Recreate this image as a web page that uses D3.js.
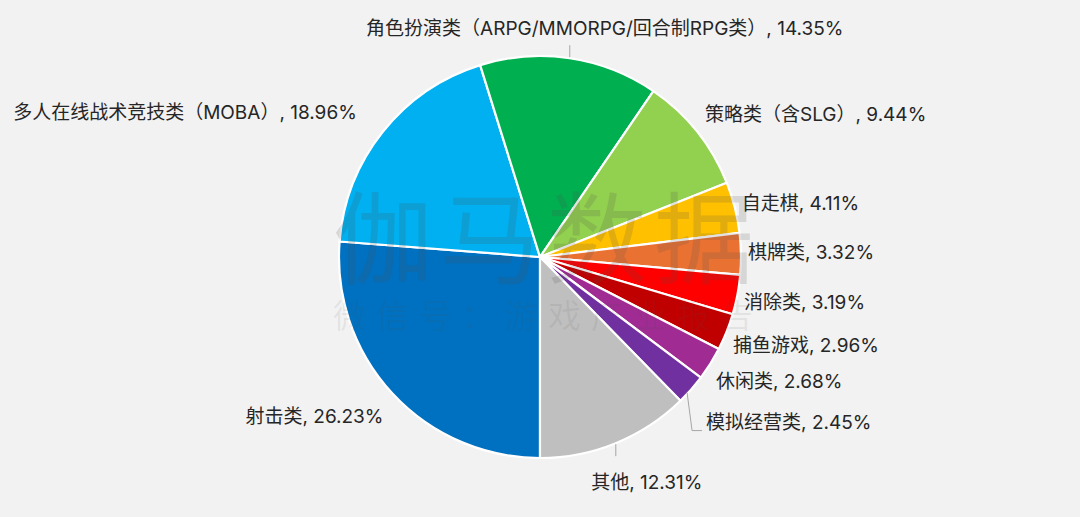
<!DOCTYPE html>
<html><head><meta charset="utf-8">
<script src="https://cdn.jsdelivr.net/npm/d3@7"></script>
<style>html,body{margin:0;padding:0;background:#F2F2F2;}svg{display:block;}</style>
</head><body>
<svg id="chart" width="1080" height="517"></svg>
<script>
const categories = ["射击类","多人在线战术竞技类（MOBA）","角色扮演类（ARPG/MMORPG/回合制RPG类）","策略类（含SLG）","自走棋","棋牌类","消除类","捕鱼游戏","休闲类","模拟经营类","其他"];
const values = [26.23,18.96,14.35,9.44,4.11,3.32,3.19,2.96,2.68,2.45,12.31];
const valueLabels = ["26.23%","18.96%","14.35%","9.44%","4.11%","3.32%","3.19%","2.96%","2.68%","2.45%","12.31%"];
const colors = ["#0070C0","#00B0F0","#00B050","#92D050","#FFC000","#E97132","#FF0000","#C00000","#A02B93","#7030A0","#BFBFBF"];
// label layout: offset from the slice's outer-edge midpoint, anchor, leader line flag
const labelNudge = [[-9,23,"end",0],[-26,-19,"end",0],[35,-30,"middle",1],[8,-17,"start",0],[7,-4,"start",0],[7,-2,"start",0],[6.5,8,"start",0],[6.4,13,"start",0],[5.5,18,"start",0],[15,33,"start",2],[31,39,"middle",1]];

const svg = d3.select("#chart");
const cx = 540, cy = 257, R = 201;
const g = svg.append("g").attr("transform", `translate(${cx},${cy})`);
const pie = d3.pie().sort(null).value(d => d).startAngle(Math.PI).endAngle(3*Math.PI);
const arcs = pie(values);
const arc = d3.arc().innerRadius(0).outerRadius(R);
g.selectAll("path.slice").data(arcs).join("path").attr("class","slice")
  .attr("d", arc).attr("fill", (d,i) => colors[i])
  .attr("stroke", "#fff").attr("stroke-width", 2.2).attr("stroke-linejoin","round");

// watermark
const wm = svg.append("g").style("pointer-events","none");
wm.append("text").attr("x", 333).attr("y", 276)
  .attr("font-family","'Noto Sans CJK SC', sans-serif").attr("font-size", 100)
  .attr("letter-spacing", 7).attr("fill","#505050").attr("fill-opacity",0.17).text("伽马数据");
wm.append("text").attr("x", 333).attr("y", 328)
  .attr("font-family","'Noto Sans CJK SC', sans-serif").attr("font-size", 33)
  .attr("letter-spacing", 10).attr("fill","#505050").attr("fill-opacity",0.09).text("微信号：游戏产业报告");

const lg = svg.append("g").attr("transform", `translate(${cx},${cy})`);
arcs.forEach((d,i) => {
  const a = (d.startAngle + d.endAngle)/2;
  const px = R*Math.sin(a), py = -R*Math.cos(a);
  const [dx,dy,anchor,leader] = labelNudge[i];
  const tx = px+dx, ty = py+dy;
  if (leader === 1) {
    const dir = dy < 0 ? -1 : 1;
    lg.append("path").attr("d", `M${px},${py+dir*1}L${px},${py+dir*13}`)
      .attr("stroke","#A6A6A6").attr("stroke-width",1).attr("fill","none");
  } else if (leader === 2) {
    lg.append("path").attr("d", `M${px-4},${py+3}L${px+1},${ty+8}L${tx-4},${ty+8}`)
      .attr("stroke","#A6A6A6").attr("stroke-width",1).attr("fill","none");
  }
  lg.append("text").attr("x", tx).attr("y", ty).attr("dy","0.35em")
    .attr("text-anchor", anchor)
    .attr("font-family","Inter, 'Noto Sans CJK SC', sans-serif").attr("font-size", 19)
    .attr("fill","#262626")
    .text(categories[i] + ", " + valueLabels[i]);
});
</script>
</body></html>
